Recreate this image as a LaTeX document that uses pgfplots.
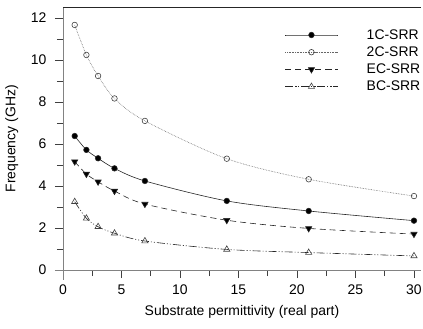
\documentclass[border=0pt]{standalone}
\usepackage{fontspec}
\setmainfont{Liberation Sans}
\usepackage{pgfplots}
\pgfplotsset{compat=1.18}
\usetikzlibrary{calc}
\definecolor{axgray}{RGB}{130,130,130}
\begin{document}
\begin{tikzpicture}
\begin{axis}[
  name=ax,
  scale only axis,
  width=358bp, height=262.5bp,
  xmin=0, xmax=30.6, ymin=0, ymax=12.5,
  axis lines=left,
  axis line style={-, draw=axgray, line width=0.9pt},
  clip=false,
  xtick={0,5,...,30}, minor xtick={2.5,7.5,...,27.5},
  ytick={0,2,...,12}, minor ytick={1,3,...,11},
  tick style={draw=black!75, line width=0.7pt},
  major tick length=8bp, minor tick length=6bp,
  tick align=outside,
  /pgf/number format/assume math mode=true,
  ticklabel style={font=\fontsize{14}{16}\selectfont},
  xticklabel style={yshift=-3bp},
  yticklabel style={xshift=-5bp},
  xlabel={Substrate permittivity (real part)},
  ylabel={Frequency (GHz)},
  every axis x label/.style={at={(axis description cs:0.5,-0.16)}, anchor=center, font=\fontsize{14}{16}\selectfont},
  every axis y label/.style={at={(axis description cs:-0.143,0.5)}, anchor=center, rotate=90, font=\fontsize{14}{16}\selectfont},
  legend style={at={(axis description cs:0.62,0.925)}, anchor=north west, draw=none, fill=none,
    font=\fontsize{14}{16}\selectfont, row sep=2bp, inner sep=0pt,
    /tikz/every odd column/.append style={column sep=27bp}},
  legend cell align=left,
  legend image code/.code={\draw[mark repeat=2,mark phase=2] plot coordinates {(0bp,0bp) (26bp,0bp) (52bp,0bp)};},
  every axis plot/.append style={line width=0.6pt, smooth, tension=0.5},
]
\addplot[black!85, mark=*, mark size=2.8pt, mark options={solid, fill=black}] coordinates {
 (1,6.38) (2,5.72) (3,5.32) (4.4,4.84) (7,4.24) (14,3.29) (21,2.81) (30,2.35)};
\addlegendentry{1C-SRR}
\addplot[black!60, densely dotted, mark=o, mark size=2.8pt, mark options={solid, black!75, fill=white}] coordinates {
 (1,11.67) (2,10.24) (3,9.24) (4.4,8.17) (7,7.1) (14,5.3) (21,4.32) (30,3.52)};
\addlegendentry{2C-SRR}
\addplot[black!85, dash pattern=on 6bp off 4bp, mark=triangle*, mark size=3.6pt, mark options={solid, rotate=180, fill=black}] coordinates {
 (1,5.16) (2,4.57) (3,4.2) (4.4,3.76) (7,3.14) (14,2.37) (21,1.98) (30,1.71)};
\addlegendentry{EC-SRR}
\addplot[black!85, dash pattern=on 8bp off 2bp on 1bp off 2bp on 1bp off 2bp, mark=triangle, mark size=3.6pt, mark options={solid, black!75, fill=white}] coordinates {
 (1,3.25) (2,2.46) (3,2.06) (4.4,1.75) (7,1.38) (14,0.98) (21,0.83) (30,0.67)};
\addlegendentry{BC-SRR}
\draw[axgray, line width=0.9pt] (axis cs:0,0) -- ++(0,-10bp);
\draw[axgray, line width=0.9pt] (axis cs:0,0) -- ++(-8bp,0);
\draw[black!85, line width=0.9pt] (rel axis cs:0,1) -- (rel axis cs:1,1);
\end{axis}
\pgfresetboundingbox
\path ($(ax.south west)+(-63bp,-59bp)$) rectangle ($(ax.north east)+(2bp,7.5bp)$);
\end{tikzpicture}
\end{document}
